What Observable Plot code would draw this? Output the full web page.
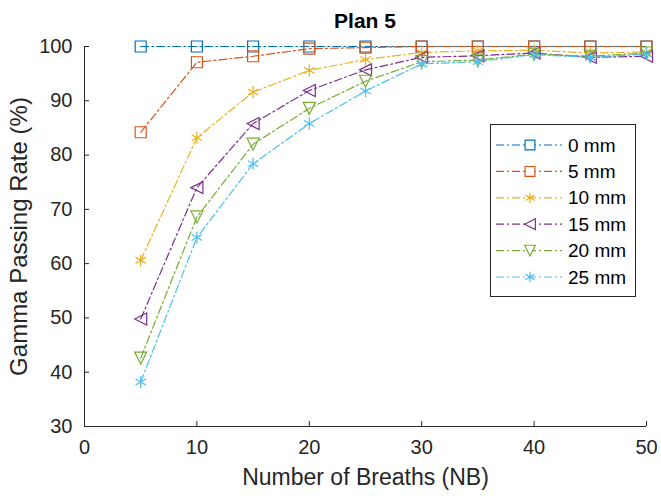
<!DOCTYPE html>
<html>
<head>
<meta charset="utf-8">
<script src="https://cdn.jsdelivr.net/npm/d3@7"></script>
<script src="https://cdn.jsdelivr.net/npm/@observablehq/plot@0.6"></script>
<style>
  html, body { margin: 0; padding: 0; background: #fff; }
  #wrap { position: relative; width: 661px; height: 496px; font-family: "Liberation Sans", Arial, Helvetica, sans-serif; }
  #title { position: absolute; left: 84px; width: 562px; top: 10px; text-align: center; font-weight: bold; font-size: 21px; line-height: 21px; color: #000; }
  #legend { position: absolute; left: 490px; top: 124px; }
</style>
</head>
<body>
<div id="wrap">
  <div id="chart"></div>
  <div id="title">Plan 5</div>
  <div id="legend"></div>
</div>
<script>
// ---- data ----
const breaths = [5, 10, 15, 20, 25, 30, 35, 40, 45, 50];
const seriesNames = ["0 mm", "5 mm", "10 mm", "15 mm", "20 mm", "25 mm"];
const rate0mm  = [100, 100, 100, 100, 100, 100, 100, 100, 100, 100];
const rate5mm  = [84.2, 97.1, 98.2, 99.6, 99.8, 100, 100, 100, 100, 100];
const rate10mm = [60.6, 83.2, 91.6, 95.6, 97.6, 98.9, 99.2, 99.3, 98.8, 99.0];
const rate15mm = [49.8, 74.0, 85.8, 91.9, 95.7, 98.0, 98.3, 98.8, 98.0, 98.2];
const rate20mm = [42.6, 68.6, 82.0, 88.6, 93.6, 97.2, 97.5, 98.6, 98.2, 98.8];
const rate25mm = [38.2, 64.8, 78.4, 85.8, 91.8, 96.8, 97.2, 98.5, 98.0, 98.6];
const xTicks = [0, 10, 20, 30, 40, 50];
const yTicks = [30, 40, 50, 60, 70, 80, 90, 100];
const titleText = "Plan 5";
const xLabel = "Number of Breaths (NB)";
const yLabel = "Gamma Passing Rate (%)";

// ---- styles ----
const colors = ["#0072BD", "#D95319", "#EDB120", "#7E2F8E", "#77AC30", "#4DBEEE"];
const AX = "#262626";
const DASH = "8,3,2,3";

const rad = size => Math.sqrt(size / Math.PI);
const symSquare = { draw(c, size) { const r = rad(size); c.moveTo(-r, -r); c.lineTo(r, -r); c.lineTo(r, r); c.lineTo(-r, r); c.closePath(); } };
const symAsterisk = { draw(c, size) { const r = rad(size); const t = r / 2, u = t * Math.sqrt(3);
  c.moveTo(0, r); c.lineTo(0, -r); c.moveTo(-u, -t); c.lineTo(u, t); c.moveTo(-u, t); c.lineTo(u, -t); } };
const symTriLeft = { draw(c, size) { const r = rad(size); c.moveTo(-r, 0); c.lineTo(r, -r); c.lineTo(r, r); c.closePath(); } };
const symTriDown = { draw(c, size) { const r = rad(size); c.moveTo(0, r); c.lineTo(-r, -r); c.lineTo(r, -r); c.closePath(); } };
const symbols = [symSquare, symSquare, symAsterisk, symTriLeft, symTriDown, symAsterisk];
const radii = [5.5, 5.5, 6, 6, 6, 6];

const allRates = [rate0mm, rate5mm, rate10mm, rate15mm, rate20mm, rate25mm];
const rows = seriesNames.flatMap((s, i) => breaths.map((nb, j) => ({series: s, nb, rate: allRates[i][j]})));

const seriesMarks = seriesNames.flatMap((s, i) => {
  const d = rows.filter(r => r.series === s);
  return [
    Plot.line(d, {x: "nb", y: "rate", stroke: colors[i], strokeWidth: 1.2, strokeDasharray: DASH}),
    Plot.dot(d, {x: "nb", y: "rate", stroke: colors[i], fill: "none", symbol: symbols[i], r: radii[i], strokeWidth: 1.2})
  ];
});

const FONT = '"Liberation Sans", Arial, Helvetica, sans-serif';
const chart = Plot.plot({
  width: 661, height: 496,
  marginLeft: 84, marginRight: 15, marginTop: 46, marginBottom: 70,
  style: {fontFamily: FONT, color: AX, background: "white", overflow: "visible"},
  x: {domain: [0, 50]},
  y: {domain: [30, 100]},
  marks: [
    Plot.ruleX([0], {stroke: AX}),
    Plot.ruleY([30], {stroke: AX}),
    Plot.tickX(xTicks, {x: d => d, insetTop: 375, stroke: AX}),
    Plot.tickY(yTicks, {y: d => d, insetRight: 557, stroke: AX}),
    Plot.axisX({ticks: xTicks, tickSize: 0, tickPadding: 13, fontSize: 20, label: null}),
    Plot.axisX({ticks: [], tickSize: 0, label: xLabel, labelAnchor: "center", labelOffset: 58, labelArrow: "none", fontSize: 23}),
    Plot.axisY({ticks: yTicks, tickSize: 0, tickPadding: 12, fontSize: 20, label: null}),
    Plot.axisY({ticks: [], tickSize: 0, label: yLabel, labelAnchor: "center", labelOffset: 75, labelArrow: "none", fontSize: 24}),
    ...seriesMarks
  ]
});
document.getElementById("chart").appendChild(chart);
document.getElementById("title").textContent = titleText;

// ---- legend ----
const LW = 146, LH = 173;
const lg = d3.select("#legend").append("svg").attr("width", LW).attr("height", LH)
  .style("font-family", FONT).style("overflow", "visible");
lg.append("rect").attr("x", 0.5).attr("y", 0.5).attr("width", LW - 1).attr("height", LH - 1)
  .attr("fill", "white").attr("stroke", AX).attr("stroke-width", 1);
seriesNames.forEach((s, i) => {
  const cy = 21 + i * 26.4;
  const g = lg.append("g").attr("transform", `translate(0,${cy})`);
  g.append("line").attr("x1", 6).attr("x2", 72).attr("y1", 0).attr("y2", 0)
    .attr("stroke", colors[i]).attr("stroke-width", 1.2).attr("stroke-dasharray", DASH);
  const p = d3.path();
  symbols[i].draw(p, Math.PI * radii[i] * radii[i] * 0.8);
  g.append("path").attr("transform", "translate(40,0)").attr("d", p.toString())
    .attr("fill", "white").attr("stroke", colors[i]).attr("stroke-width", 1.2);
  g.append("text").attr("x", 78).attr("y", 0).attr("dy", "0.35em").attr("font-size", 19)
    .attr("fill", "#000").text(s);
});
</script>
</body>
</html>
